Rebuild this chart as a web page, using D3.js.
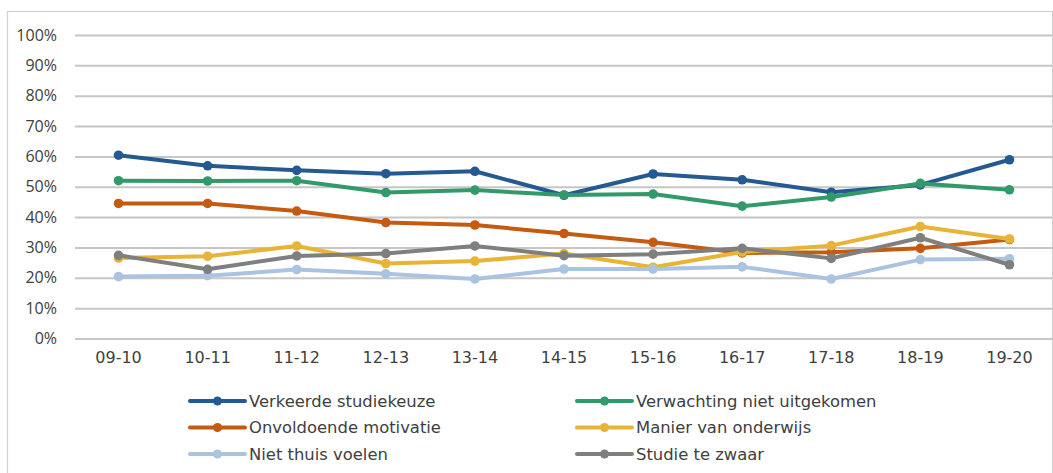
<!DOCTYPE html>
<html><head><meta charset="utf-8">
<script src="https://cdn.jsdelivr.net/npm/d3@7"></script>
<style>body{margin:0;background:#fff}svg{display:block}</style>
</head><body>
<script>
const categories = ["09-10","10-11","11-12","12-13","13-14","14-15","15-16","16-17","17-18","18-19","19-20"];
const yTicks = [0,10,20,30,40,50,60,70,80,90,100];
const seriesNames = ["Verkeerde studiekeuze","Verwachting niet uitgekomen","Onvoldoende motivatie","Manier van onderwijs","Niet thuis voelen","Studie te zwaar"];
const seriesColors = ["#245A91","#32996A","#C55A11","#E8B437","#AAC3E1","#7F7F7F"];
const verkeerdeStudiekeuze = [60.4,56.9,55.4,54.3,55.1,47.2,54.2,52.3,48.2,50.6,58.9];
const verwachtingNietUitgekomen = [52.0,51.9,52.0,48.1,48.9,47.3,47.6,43.6,46.6,51.1,49.0];
const onvoldoendeMotivatie = [44.5,44.5,42.0,38.2,37.4,34.6,31.7,28.2,28.4,29.7,32.6];
const manierVanOnderwijs = [26.5,27.1,30.5,24.7,25.5,28.0,23.5,28.5,30.6,36.9,32.8];
const nietThuisVoelen = [20.4,20.7,22.7,21.3,19.6,22.9,22.9,23.6,19.6,26.0,26.3];
const studieTeZwaar = [27.4,22.8,27.2,28.0,30.5,27.3,27.8,29.7,26.4,33.2,24.3];
const seriesValues = [verkeerdeStudiekeuze,verwachtingNietUitgekomen,onvoldoendeMotivatie,manierVanOnderwijs,nietThuisVoelen,studieTeZwaar];

const W=1053,H=473;
const svg=d3.select("body").append("svg").attr("width",W).attr("height",H);
// frame
svg.append("path").attr("d","M7.5,480V11.5H1052.5V480").attr("fill","none").attr("stroke","#d0d0d0").attr("stroke-width",1.2);

const x=d3.scaleBand().domain(categories).range([74,1054]);
const y=d3.scaleLinear().domain([0,100]).range([338.5,35]);

// gridlines
const grid=svg.append("g").attr("transform","translate(75,0)")
  .call(d3.axisLeft(y).tickValues(yTicks).tickSize(-(1052-75)).tickFormat(""));
grid.select(".domain").remove();
grid.selectAll("line").attr("stroke","#c6c6c6").attr("stroke-width",2);

// y labels
const ya=svg.append("g").attr("transform","translate(57,0)")
  .call(d3.axisLeft(y).tickValues(yTicks).tickSize(0).tickPadding(0).tickFormat(d=>d+"%"));
ya.select(".domain").remove();
ya.selectAll("text").attr("font-family","'Open Sans'").attr("font-size","16px").attr("fill","#404040");

// x labels
const xa=svg.append("g").attr("transform","translate(0,352)")
  .call(d3.axisBottom(x).tickSize(0).tickPadding(0));
xa.select(".domain").remove();
xa.selectAll("text").attr("font-family","'DejaVu Sans'").attr("font-size","16px").attr("fill","#404040").attr("dy","0.71em");

const line=d3.line().x((d,i)=>x(categories[i])+x.bandwidth()/2).y(d=>y(d));
seriesValues.forEach((vals,k)=>{
  const g=svg.append("g");
  g.append("path").datum(vals).attr("d",line).attr("fill","none")
    .attr("stroke",seriesColors[k]).attr("stroke-width",4).attr("stroke-linejoin","round");
  g.selectAll("circle").data(vals).join("circle")
    .attr("cx",(d,i)=>x(categories[i])+x.bandwidth()/2).attr("cy",d=>y(d))
    .attr("r",4.8).attr("fill",seriesColors[k]);
});

// legend
const legX=[190,577], legY=[401,427.5,454];
seriesNames.forEach((name,k)=>{
  const col=k%2,row=Math.floor(k/2);
  const g=svg.append("g").attr("transform",`translate(${legX[col]},${legY[row]})`);
  g.append("line").attr("x1",0).attr("x2",55).attr("y1",0).attr("y2",0)
    .attr("stroke",seriesColors[k]).attr("stroke-width",4).attr("stroke-linecap","round");
  g.append("circle").attr("cx",27.5).attr("cy",0).attr("r",4.5).attr("fill",seriesColors[k]);
  g.append("text").attr("x",59).attr("y",0).attr("dy","0.36em")
    .attr("font-family","'DejaVu Sans'").attr("font-size","16.4px").attr("fill","#404040").text(name);
});
</script>
</body></html>
